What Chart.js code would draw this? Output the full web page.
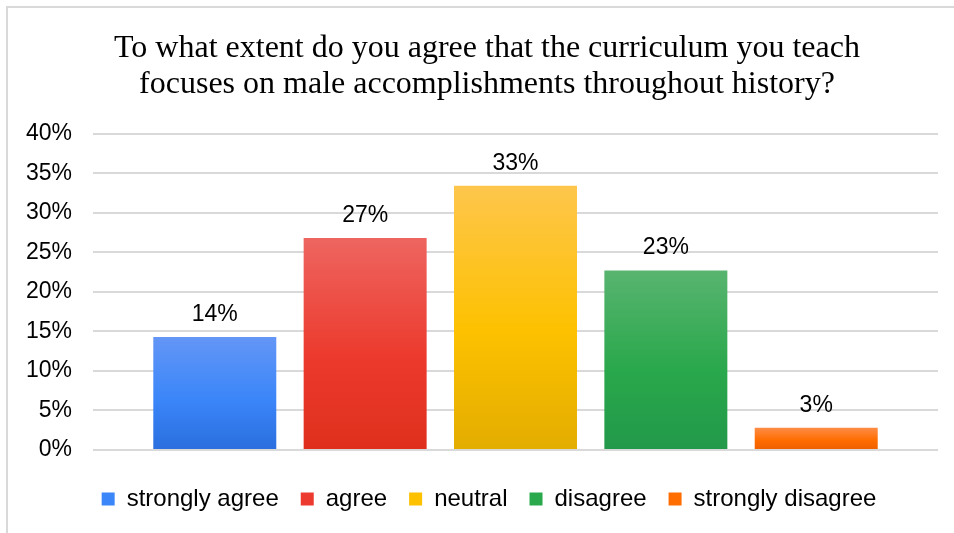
<!DOCTYPE html>
<html>
<head>
<meta charset="utf-8">
<script src="https://cdn.jsdelivr.net/npm/chart.js@4"></script>
<style>
  html, body { margin: 0; padding: 0; background: #fff; }
  #wrap { width: 954px; height: 533px; position: relative; }
</style>
</head>
<body>
<div id="wrap"><canvas id="chart" width="954" height="533"></canvas></div>
<script>
// data
const categories = ['strongly agree', 'agree', 'neutral', 'disagree', 'strongly disagree'];
const percentValues = [14.3, 26.8, 33.4, 22.7, 2.8];
const percentLabels = ['14%', '27%', '33%', '23%', '3%'];
const tickValues = [0, 5, 10, 15, 20, 25, 30, 35, 40];

// gradient stops per bar (top, middle, bottom)
const barStops = [
    ['#6396f6', '#3b86f9', '#2a6edf'], // blue
    ['#ee6560', '#ec3b2e', '#df2f1c'], // red
    ['#fec64c', '#fdc100', '#e3ad00'], // yellow
    ['#58b46f', '#2aa84c', '#22994a'], // green
    ['#ff8c46', '#ff6d00', '#ee5f00']  // orange
];
const legendColors = barStops.map(s => s[1]);

function barGradient(context) {
    const chart = context.chart;
    const area = chart.chartArea;
    if (!area || context.type !== 'data') return legendColors[context.dataIndex];
    const y = chart.scales.y;
    const top = y.getPixelForValue(context.raw.y);
    const bottom = y.getPixelForValue(0);
    const g = chart.ctx.createLinearGradient(0, top, 0, bottom);
    const s = barStops[context.dataIndex];
    g.addColorStop(0, s[0]);
    g.addColorStop(0.55, s[1]);
    g.addColorStop(1, s[2]);
    return g;
}

// frame lines (top and left edge like the source)
const framePlugin = {
    id: 'frame',
    beforeDraw(chart) {
        const ctx = chart.ctx;
        ctx.save();
        ctx.strokeStyle = '#d9d9d9';
        ctx.lineWidth = 2;
        ctx.beginPath();
        ctx.moveTo(7, 533);
        ctx.lineTo(7, 7);
        ctx.lineTo(954, 7);
        ctx.stroke();
        ctx.restore();
    }
};

// nudge title and legend a little right, centred on the plot like the source
const shiftBoxes = {
    id: 'shiftBoxes',
    afterLayout(chart) {
        chart.titleBlock.left += 7;
        chart.titleBlock.right += 7;
        chart.legend.left += 9;
        chart.legend.right += 9;
    }
};

// value labels above bars
const valueLabels = {
    id: 'valueLabels',
    afterDatasetsDraw(chart) {
        const ctx = chart.ctx;
        const meta = chart.getDatasetMeta(0);
        ctx.save();
        ctx.font = '23px "Liberation Sans", Arial, sans-serif';
        ctx.fillStyle = '#000';
        ctx.textAlign = 'center';
        ctx.textBaseline = 'alphabetic';
        meta.data.forEach((bar, i) => {
            ctx.fillText(percentLabels[i], bar.x, bar.y - 16);
        });
        ctx.restore();
    }
};

new Chart(document.getElementById('chart'), {
    type: 'bar',
    data: {
        datasets: [{
            label: 'share',
            data: percentValues.map((v, i) => ({ x: i, y: v })),
            backgroundColor: barGradient,
            categoryPercentage: 1,
            barPercentage: 0.818
        }]
    },
    options: {
        responsive: false,
        animation: false,
        layout: { padding: { left: 22, right: 16, top: 0, bottom: 12 } },
        plugins: {
            title: {
                display: true,
                text: ['To what extent do you agree that the curriculum you teach',
                       'focuses on male accomplishments throughout history?'],
                color: '#000',
                font: { family: '"Liberation Serif", "Times New Roman", serif', size: 32, weight: 'normal', lineHeight: 1.12 },
                padding: { top: 31, bottom: 31 }
            },
            legend: {
                position: 'bottom',
                labels: {
                    color: '#000',
                    font: { family: '"Liberation Sans", Arial, sans-serif', size: 24 },
                    boxWidth: 13,
                    boxHeight: 13,
                    padding: 22,
                    generateLabels: () => categories.map((c, i) => ({
                        text: c,
                        fillStyle: legendColors[i],
                        strokeStyle: legendColors[i],
                        lineWidth: 0,
                        hidden: false,
                        index: i
                    }))
                }
            },
            tooltip: { enabled: false }
        },
        scales: {
            x: {
                type: 'linear',
                min: -0.81,
                max: 4.81,
                offset: false,
                // one (hidden) tick per category so the bar width uses the category spacing
                afterBuildTicks: axis => { axis.ticks = categories.map((c, i) => ({ value: i })); },
                grid: { display: false },
                border: { display: false },
                ticks: { display: false },
                afterFit: axis => { axis.height = 15; }
            },
            y: {
                min: 0,
                max: 40,
                afterBuildTicks: axis => { axis.ticks = tickValues.map(v => ({ value: v })); },
                afterFit: axis => { axis.width = 71; },
                grid: { color: '#d9d9d9', lineWidth: 2, drawTicks: false },
                border: { display: false },
                ticks: {
                    padding: 21,
                    color: '#000',
                    font: { family: '"Liberation Sans", Arial, sans-serif', size: 23 },
                    callback: v => v + '%'
                }
            }
        }
    },
    plugins: [framePlugin, shiftBoxes, valueLabels]
});
</script>
</body>
</html>
